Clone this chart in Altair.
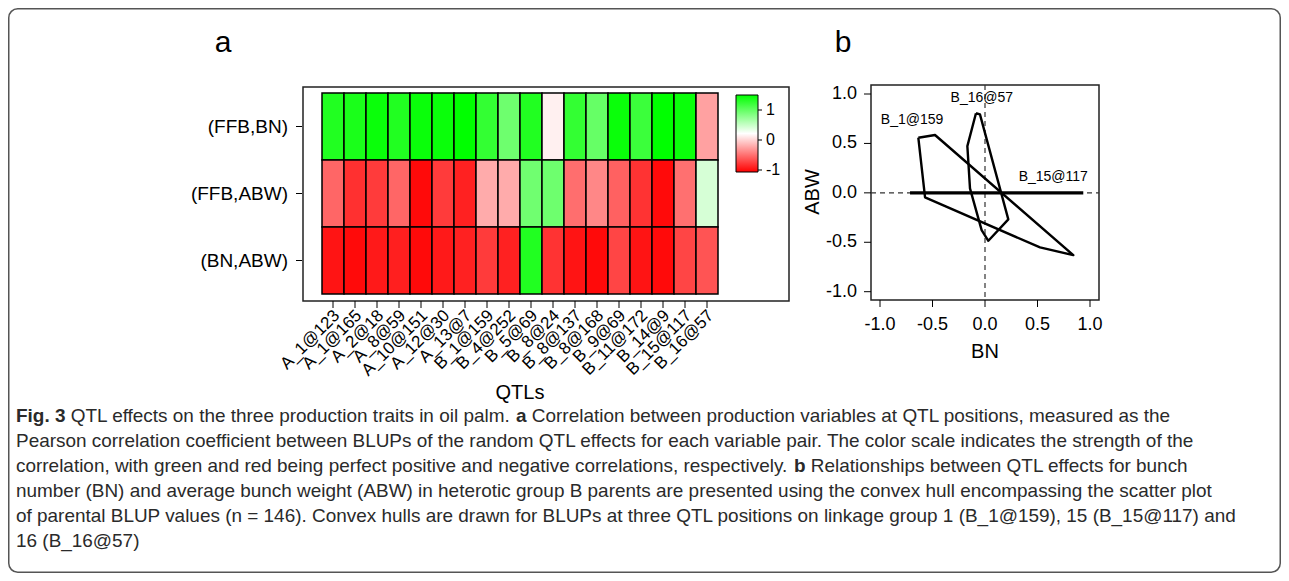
import altair as alt
import pandas as pd

# ---------------- data ----------------
qtls = ["A_1@123", "A_1@165", "A_2@18", "A_8@59", "A_10@151", "A_12@30", "A_13@7",
        "B_1@159", "B_4@252", "B_5@69", "B_8@24", "B_8@137", "B_8@168", "B_9@69",
        "B_11@172", "B_14@9", "B_15@117", "B_16@57"]
pairs = ["(FFB,BN)", "(FFB,ABW)", "(BN,ABW)"]
r_ffb_bn = [0.87, 0.90, 0.96, 0.87, 0.96, 0.96, 1.00, 0.80, 0.57, 0.87, -0.06, 0.80,
            0.60, 0.96, 0.77, 1.00, 0.96, -0.37]
r_ffb_abw = [-0.60, -0.81, -0.77, -0.60, -0.96, -0.77, -0.87, -0.33, -0.33, 0.56, 0.57,
             -0.57, -0.47, -0.62, -0.80, -0.96, -0.56, 0.16]
r_bn_abw = [-0.92, -0.96, -0.90, -0.88, -0.96, -0.90, -0.87, -0.77, -0.87, 0.87, -0.80,
            -0.92, -0.96, -0.73, -0.92, -0.96, -0.73, -0.67]
legend_values = [1, 0, -1]
legend_labels = ["1", "0", "-1"]

hull_b1_x = [-0.635, -0.476, 0.841, 0.524, -0.571, -0.635]
hull_b1_y = [0.558, 0.585, -0.630, -0.552, -0.046, 0.558]
hull_b16_x = [-0.086, -0.048, 0.222, 0.032, -0.032, -0.143, -0.168, -0.086]
hull_b16_y = [0.805, 0.794, -0.268, -0.485, -0.377, 0.045, 0.473, 0.805]
hull_b15_x = [-0.714, 0.936]
hull_b15_y = [0.0, 0.0]
hull_names = ["B_1@159", "B_16@57", "B_15@117"]
hull_label_x = [-0.695, -0.03, 0.65]
hull_label_y = [0.736, 0.956, 0.157]
b_ticks = [-1.0, -0.5, 0.0, 0.5, 1.0]
b_tick_labels = ["-1.0", "-0.5", "0.0", "0.5", "1.0"]

caption = [
    [("Fig. 3", True), (" QTL effects on the three production traits in oil palm. ", False),
     ("a", True), (" Correlation between production variables at QTL positions, measured as the", False)],
    [("Pearson correlation coefficient between BLUPs of the random QTL effects for each variable pair. "
      "The color scale indicates the strength of the", False)],
    [("correlation, with green and red being perfect positive and negative correlations, respectively. ", False),
     ("b", True), (" Relationships between QTL effects for bunch", False)],
    [("number (BN) and average bunch weight (ABW) in heterotic group B parents are presented using the "
      "convex hull encompassing the scatter plot", False)],
    [("of parental BLUP values (n = 146). Convex hulls are drawn for BLUPs at three QTL positions on "
      "linkage group 1 (B_1@159), 15 (B_15@117) and", False)],
    [("16 (B_16@57)", False)],
]

# ---------------- helpers ----------------
FONT = "Liberation Sans"
ONE = pd.DataFrame({"k": [0]})

REG = {' ': 278, '(': 333, ')': 333, ',': 278, '-': 333, '.': 278, '=': 584, '@': 1015,
       '_': 556, ':': 278,
       'A': 667, 'B': 667, 'C': 722, 'D': 722, 'E': 667, 'F': 611, 'G': 778, 'H': 722,
       'I': 278, 'J': 500, 'K': 667, 'L': 556, 'M': 833, 'N': 722, 'O': 778, 'P': 667,
       'Q': 778, 'R': 722, 'S': 667, 'T': 611, 'U': 722, 'V': 667, 'W': 944, 'X': 667,
       'Y': 667, 'Z': 611,
       'a': 556, 'b': 556, 'c': 500, 'd': 556, 'e': 556, 'f': 278, 'g': 556, 'h': 556,
       'i': 222, 'j': 222, 'k': 500, 'l': 222, 'm': 833, 'n': 556, 'o': 556, 'p': 556,
       'q': 556, 'r': 333, 's': 500, 't': 278, 'u': 556, 'v': 500, 'w': 722, 'x': 500,
       'y': 500, 'z': 500}
BOLD = {'F': 611, 'i': 278, 'g': 611, '.': 278, ' ': 278, 'a': 556, 'b': 611}


def em(s, bold=False):
    tot = 0
    for ch in s:
        if ch.isdigit():
            tot += 556
        elif bold and ch in BOLD:
            tot += BOLD[ch]
        else:
            tot += REG.get(ch, 556)
    return tot / 1000.0


def vtext(txt, x, y, size, align="left", baseline="middle", weight="normal", angle=0, color="black"):
    kw = dict(text=txt, align=align, baseline=baseline, fontSize=size, font=FONT,
              fontWeight=weight, color=color)
    if angle:
        kw["angle"] = angle
    return alt.Chart(ONE).mark_text(**kw).encode(x=alt.value(x), y=alt.value(y))


def vrect(x, x2, y, y2, stroke="#222", sw=1.5, radius=0):
    kw = dict(fillOpacity=0, stroke=stroke, strokeWidth=sw)
    if radius:
        kw["cornerRadius"] = radius
    return alt.Chart(ONE).mark_rect(**kw).encode(
        x=alt.value(x), x2=alt.value(x2), y=alt.value(y), y2=alt.value(y2))


layers = []

# outer figure border
layers.append(vrect(0.75, 1272.25, 0.75, 564.25, stroke="#555", sw=1.5, radius=9))

# ---------------- panel a ----------------
heat = pd.DataFrame({
    "qtl": qtls * 3,
    "pair": [pairs[0]] * len(qtls) + [pairs[1]] * len(qtls) + [pairs[2]] * len(qtls),
    "r": r_ffb_bn + r_ffb_abw + r_bn_abw,
})
HX = [314, 710]
HY = [85, 286]
color_scale = alt.Scale(domain=[-1, 0, 1], range=["#ff0000", "#ffffff", "#00ff00"], interpolate="rgb")

layers.append(vrect(295, 781, 79, 293))
layers.append(
    alt.Chart(heat).mark_rect(stroke="black", strokeWidth=1.5).encode(
        x=alt.X("qtl:N", sort=qtls, axis=None,
                scale=alt.Scale(domain=qtls, range=HX, paddingInner=0, paddingOuter=0)),
        y=alt.Y("pair:N", sort=pairs, axis=None,
                scale=alt.Scale(domain=pairs, range=HY, paddingInner=0, paddingOuter=0)),
        color=alt.Color("r:Q", scale=color_scale, legend=None),
    )
)
qdf = pd.DataFrame({"qtl": qtls})
layers.append(
    alt.Chart(qdf).mark_rule(color="black", strokeWidth=1).encode(
        x=alt.X("qtl:N", axis=None, scale=alt.Scale(type="point", domain=qtls, range=HX, padding=0.5)),
        y=alt.value(293), y2=alt.value(300))
)
layers.append(
    alt.Chart(qdf).mark_text(align="right", baseline="middle", angle=315, fontSize=17,
                             font=FONT, color="black").encode(
        x=alt.X("qtl:N", axis=None,
                scale=alt.Scale(type="point", domain=qtls, range=[HX[0] + 4, HX[1] + 4], padding=0.5)),
        y=alt.value(305), text="qtl:N")
)
pdf = pd.DataFrame({"pair": pairs})
layers.append(
    alt.Chart(pdf).mark_rule(color="black", strokeWidth=1).encode(
        y=alt.Y("pair:N", axis=None, scale=alt.Scale(type="point", domain=pairs, range=HY, padding=0.5)),
        x=alt.value(288), x2=alt.value(294))
)
layers.append(
    alt.Chart(pdf).mark_text(align="right", baseline="middle", fontSize=19, font=FONT,
                             color="black").encode(
        y=alt.Y("pair:N", axis=None, scale=alt.Scale(type="point", domain=pairs, range=HY, padding=0.5)),
        x=alt.value(280), text="pair:N")
)
# colour bar
grad = alt.Gradient(gradient="linear", x1=0, x2=0, y1=1, y2=0,
                    stops=[alt.GradientStop(color="#ff0000", offset=0),
                           alt.GradientStop(color="#ffffff", offset=0.5),
                           alt.GradientStop(color="#00ff00", offset=1)])
layers.append(alt.Chart(ONE).mark_rect(fill=grad, stroke="black", strokeWidth=1).encode(
    x=alt.value(728), x2=alt.value(750), y=alt.value(87), y2=alt.value(164)))
ldf = pd.DataFrame({"v": legend_values, "lab": legend_labels})
lscale = alt.Scale(domain=[-1, 1], range=[162, 102], zero=False, nice=False)
layers.append(alt.Chart(ldf).mark_rule(color="black", strokeWidth=1).encode(
    y=alt.Y("v:Q", scale=lscale, axis=None), x=alt.value(750), x2=alt.value(754)))
layers.append(alt.Chart(ldf).mark_text(align="left", baseline="middle", fontSize=16, font=FONT,
                                       color="black").encode(
    y=alt.Y("v:Q", scale=lscale, axis=None), x=alt.value(758), text="lab:N"))
layers.append(vtext("QTLs", 512, 385, 20, align="center"))
layers.append(vtext("a", 215, 44, 30, align="center", baseline="alphabetic"))

# ---------------- panel b ----------------
BXs = alt.Scale(domain=[-1, 1], range=[872, 1082], zero=False, nice=False)
BYs = alt.Scale(domain=[-1, 1], range=[283.7, 86], zero=False, nice=False)
layers.append(vrect(863, 1091, 77, 292))
zero = pd.DataFrame({"z": [0.0]})
layers.append(alt.Chart(zero).mark_rule(color="#333", strokeWidth=1.2, strokeDash=[5, 4]).encode(
    x=alt.X("z:Q", scale=BXs, axis=None), y=alt.value(77), y2=alt.value(292)))
layers.append(alt.Chart(zero).mark_rule(color="#333", strokeWidth=1.2, strokeDash=[5, 4]).encode(
    y=alt.Y("z:Q", scale=BYs, axis=None), x=alt.value(863), x2=alt.value(1091)))
tdf = pd.DataFrame({"t": b_ticks, "lab": b_tick_labels})
layers.append(alt.Chart(tdf).mark_rule(color="black", strokeWidth=1).encode(
    x=alt.X("t:Q", scale=BXs, axis=None), y=alt.value(292), y2=alt.value(299)))
layers.append(alt.Chart(tdf).mark_text(align="center", baseline="middle", fontSize=18, font=FONT,
                                       color="black").encode(
    x=alt.X("t:Q", scale=BXs, axis=None), y=alt.value(317), text="lab:N"))
layers.append(alt.Chart(tdf).mark_rule(color="black", strokeWidth=1).encode(
    y=alt.Y("t:Q", scale=BYs, axis=None), x=alt.value(856), x2=alt.value(863)))
layers.append(alt.Chart(tdf).mark_text(align="right", baseline="middle", fontSize=18, font=FONT,
                                       color="black").encode(
    y=alt.Y("t:Q", scale=BYs, axis=None), x=alt.value(849), text="lab:N"))

hulls = pd.DataFrame({
    "hull": [hull_names[0]] * len(hull_b1_x) + [hull_names[1]] * len(hull_b16_x),
    "idx": list(range(len(hull_b1_x))) + list(range(len(hull_b16_x))),
    "x": hull_b1_x + hull_b16_x,
    "y": hull_b1_y + hull_b16_y,
})
layers.append(alt.Chart(hulls).mark_line(color="black", strokeWidth=2.4, strokeJoin="round").encode(
    x=alt.X("x:Q", scale=BXs, axis=None), y=alt.Y("y:Q", scale=BYs, axis=None),
    detail="hull:N", order=alt.Order("idx:Q")))
h15 = pd.DataFrame({"x": hull_b15_x, "y": hull_b15_y})
layers.append(alt.Chart(h15).mark_line(color="black", strokeWidth=3.4).encode(
    x=alt.X("x:Q", scale=BXs, axis=None), y=alt.Y("y:Q", scale=BYs, axis=None)))
hl = pd.DataFrame({"name": hull_names, "x": hull_label_x, "y": hull_label_y})
layers.append(alt.Chart(hl).mark_text(fontSize=14, font=FONT, color="black").encode(
    x=alt.X("x:Q", scale=BXs, axis=None), y=alt.Y("y:Q", scale=BYs, axis=None), text="name:N"))
layers.append(vtext("ABW", 805, 184, 20, align="center", angle=270))
layers.append(vtext("BN", 977, 344, 20, align="center"))
layers.append(vtext("b", 835, 44, 30, align="center", baseline="alphabetic"))

# ---------------- caption ----------------
line5 = "".join(s for s, _ in caption[4])
cap_fs = round(1222.0 / em(line5), 2)
cap_y0, cap_dy = 408, 25
for i, line in enumerate(caption):
    cursor = 8.0
    for seg, bold in line:
        lead = len(seg) - len(seg.lstrip(" "))
        xpos = cursor + em(" " * lead, bold) * cap_fs
        layers.append(vtext(seg.strip(), xpos, cap_y0 + i * cap_dy, cap_fs,
                            weight="bold" if bold else "normal", color="#2a2a2a"))
        cursor += em(seg, bold) * cap_fs

chart = alt.layer(*layers).resolve_scale(
    x="independent", y="independent", color="independent"
).properties(
    width=1273, height=565, autosize=alt.AutoSizeParams(type="none"), padding=0
).configure_view(stroke=None)

chart.save("out.html", embed_options={"renderer": "svg", "actions": False})
